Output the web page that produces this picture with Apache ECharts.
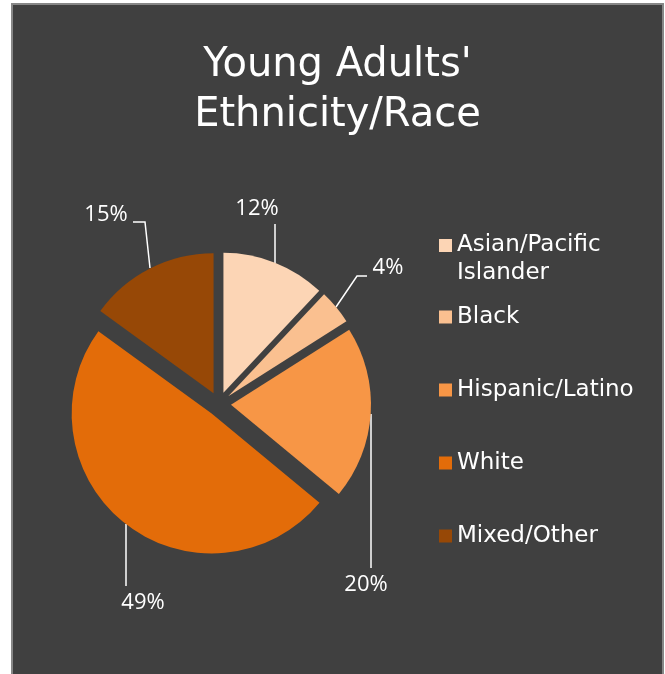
<!DOCTYPE html>
<html>
<head>
<meta charset="utf-8">
<script src="https://cdn.jsdelivr.net/npm/echarts@6/dist/echarts.min.js"></script>
<style>
  html, body { margin: 0; padding: 0; background: #ffffff; }
  #panel {
    position: absolute; left: 11px; top: 3px; width: 653px; height: 690px;
    box-sizing: border-box; background: #404040;
    border: 2px solid #878787; border-bottom: none;
  }
  #chart { position: absolute; left: 0; top: 0; width: 665px; height: 674px; }
</style>
</head>
<body>
<div id="panel"></div>
<div id="chart"></div>
<script>
// Young adults by ethnicity / race (percent of total)
const categories = ['Asian/Pacific Islander', 'Black', 'Hispanic/Latino', 'White', 'Mixed/Other'];
const shares = [12, 4, 20, 49, 15];
const sliceColors = ['#FCD5B5', '#FAC090', '#F79646', '#E36C09', '#974806'];

// Where each percentage label sits, and the bends of its leader line
const labelSpots = [
  { x: 257, y: 209, line: [[275, 263], [275, 224]] },
  { x: 388, y: 268, line: [[336, 307], [357, 276], [367, 276]] },
  { x: 366, y: 585, line: [[371, 414], [371, 568]] },
  { x: 143, y: 603, line: [[126, 524], [126, 586]] },
  { x: 106, y: 215, line: [[150, 268], [145, 222], [133, 222]] }
];

const pieCenter = [219, 404];
const pieRadius = 140;

const legendText = {
  color: '#ffffff',
  fontFamily: 'DejaVu Sans',
  fontSize: 23,
  lineHeight: 28
};

const legendBase = {
  orient: 'vertical',
  left: 439,
  padding: 0,
  itemWidth: 13,
  itemHeight: 13,
  icon: 'rect',
  selectedMode: false,
  textStyle: legendText
};

const chart = echarts.init(document.getElementById('chart'), null, { renderer: 'canvas' });

chart.setOption({
  backgroundColor: 'transparent',
  animation: false,
  title: {
    text: "Young Adults'\nEthnicity/Race",
    left: 337.5,
    top: 41,
    padding: 0,
    textAlign: 'center',
    textStyle: {
      color: '#ffffff',
      fontFamily: 'DejaVu Sans',
      fontSize: 40,
      fontWeight: 'normal',
      lineHeight: 50
    }
  },
  legend: [
    Object.assign({}, legendBase, {
      top: 203.5,
      data: [categories[0]],
      // leading blank line keeps the swatch level with the first text line
      formatter: name => '\n' + name.replace(' ', '\n')
    }),
    Object.assign({}, legendBase, {
      top: 303,
      itemGap: 45,
      data: categories.slice(1)
    })
  ],
  series: [
    {
      // exploded slices
      type: 'pie',
      center: pieCenter,
      radius: pieRadius,
      startAngle: 90,
      clockwise: true,
      selectedMode: 'multiple',
      selectedOffset: 12,
      emphasis: { disabled: true },
      label: { show: false },
      labelLine: { show: false },
      data: categories.map((name, i) => ({
        name: name,
        value: shares[i],
        selected: true,
        itemStyle: { color: sliceColors[i] },
        select: { itemStyle: { color: sliceColors[i] } }
      }))
    },
    {
      // percentage labels with leader lines
      type: 'pie',
      center: pieCenter,
      radius: pieRadius,
      startAngle: 90,
      clockwise: true,
      silent: true,
      legendHoverLink: false,
      emphasis: { disabled: true },
      itemStyle: { color: 'transparent' },
      data: categories.map((name, i) => ({ name: name, value: shares[i] })),
      label: {
        show: true,
        position: 'outside',
        formatter: p => p.value + '%',
        color: '#ffffff',
        fontFamily: 'Open Sans',
        fontSize: 22
      },
      labelLine: {
        show: true,
        lineStyle: { color: '#ffffff', width: 1.5 }
      },
      labelLayout: params => {
        const s = labelSpots[params.dataIndex];
        return {
          x: s.x,
          y: s.y,
          align: 'center',
          verticalAlign: 'middle',
          labelLinePoints: s.line
        };
      }
    }
  ]
});
</script>
</body>
</html>
